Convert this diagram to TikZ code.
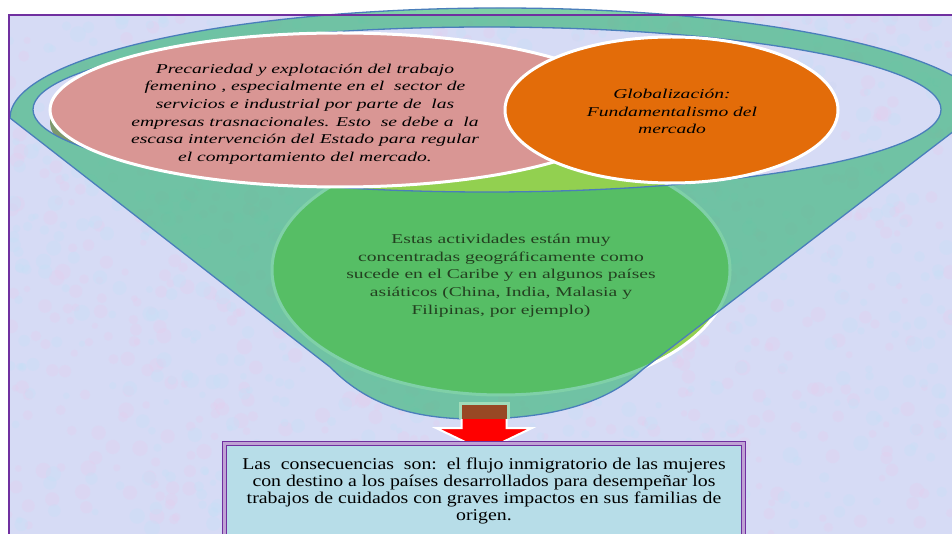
\documentclass[tikz,border=0pt]{standalone}
\usepackage{fontspec}
\setmainfont{Liberation Serif}
\newfontfamily\widefont[FakeStretch=1.45, ItalicFeatures={FakeStretch=1.45}]{Liberation Serif}
\newfontfamily\boxfont[FakeStretch=1.2]{Liberation Serif}

\definecolor{bgfill}{RGB}{214,219,245}
\definecolor{bgpink}{RGB}{230,205,238}
\definecolor{bgsky}{RGB}{196,224,248}
\definecolor{funnelteal}{RGB}{50,180,115}
\definecolor{rimblue}{RGB}{74,126,187}
\definecolor{leafgreen}{RGB}{146,208,80}
\definecolor{olivefill}{RGB}{126,152,108}
\definecolor{pinkfill}{RGB}{217,150,148}
\definecolor{orangefill}{RGB}{227,108,9}
\definecolor{shaftbrown}{RGB}{152,72,36}
\definecolor{mintedge}{RGB}{160,220,185}
\definecolor{boxblue}{RGB}{183,221,232}
\definecolor{frameviolet}{RGB}{112,48,160}
\definecolor{darkleaf}{RGB}{35,64,32}

\begin{document}
\begin{tikzpicture}[x=1pt, y=-1pt,
    bubble/.style={draw=white, line width=3pt},
    rimline/.style={draw=rimblue, line width=1.3pt},
    italictext/.style={align=center, inner sep=0pt, font=\widefont\itshape\fontsize{13.5}{17.6}\selectfont},
    plaintext/.style={align=center, inner sep=0pt, text=darkleaf, font=\widefont\fontsize{13.5}{17.75}\selectfont},
    consbox/.style={rectangle, fill=boxblue, draw=frameviolet, double=frameviolet!45, double distance=2.5pt,
        line width=1.4pt, minimum width=519pt, minimum height=95pt, inner sep=0pt, align=center,
        font=\boxfont\fontsize{16.5}{16.7}\selectfont}]

    \useasboundingbox (0,0) rectangle (952,534);
    \clip (0,0) rectangle (952,534);

    % Background
    \fill[white] (0,0) rectangle (952,534);
    \fill[bgfill] (9,15) rectangle (952,534);
    \begin{scope}
        \clip (9,15) rectangle (952,534);
        \pgfmathsetseed{7}
        \foreach \i in {1,...,700} {
            \pgfmathsetmacro{\bx}{9+943*rnd}
            \pgfmathsetmacro{\by}{15+519*rnd}
            \pgfmathsetmacro{\br}{3+5*rnd}
            \fill[bgpink, opacity=0.3] (\bx,\by) circle[radius=\br pt];
        }
        \foreach \i in {1,...,700} {
            \pgfmathsetmacro{\bx}{9+943*rnd}
            \pgfmathsetmacro{\by}{15+519*rnd}
            \pgfmathsetmacro{\br}{3+5*rnd}
            \fill[bgsky, opacity=0.3] (\bx,\by) circle[radius=\br pt];
        }
    \end{scope}

    % Inside of the funnel mouth
    \begin{scope}
        \clip (487,109.5) ellipse [x radius=454pt, y radius=82.5pt];
        \fill[olivefill] (340,122) ellipse [x radius=290pt, y radius=77pt];
    \end{scope}

    % Green bubble (under the funnel)
    \fill[leafgreen, bubble] (501,270) ellipse [x radius=229pt, y radius=125pt];

    % Funnel
    \fill[funnelteal, fill opacity=0.62, even odd rule]
        (10,118) arc[start angle=180, end angle=0, x radius=490pt, y radius=110pt]
        -- (970,118.7) -- (642,370)
        .. controls (610,400) and (560,418) .. (480,419)
        .. controls (400,420) and (360,397) .. (330,367) -- cycle
        (487,109.5) ellipse [x radius=454pt, y radius=82.5pt];
    \draw[rimline]
        (10,118) arc[start angle=180, end angle=0, x radius=490pt, y radius=110pt]
        -- (970,118.7) -- (642,370)
        .. controls (610,400) and (560,418) .. (480,419)
        .. controls (400,420) and (360,397) .. (330,367) -- cycle;
    \draw[rimline] (487,109.5) ellipse [x radius=454pt, y radius=82.5pt];

    % Top bubbles
    \fill[pinkfill, bubble] (340,110) ellipse [x radius=290pt, y radius=77pt];
    \fill[orangefill, bubble] (671.5,110) ellipse [x radius=166.5pt, y radius=73pt];

    \node[italictext] (precariedad) at (305,114) {Precariedad y explotación del trabajo\\
        femenino , especialmente en el\ \ sector de\\
        servicios e industrial por parte de\ \ las\\
        empresas trasnacionales. Esto\ \ se debe a\ \ la\\
        escasa intervención del Estado para regular\\
        el comportamiento del mercado.};
    \node[italictext] (globalizacion) at (672,111.5) {Globalización:\\Fundamentalismo del\\mercado};
    \node[plaintext] (actividades) at (501,275.5) {Estas actividades están muy\\
        concentradas geográficamente como\\
        sucede en el Caribe y en algunos países\\
        asiáticos (China, India, Malasia y\\
        Filipinas, por ejemplo)};

    % Arrow down to the result
    \filldraw[fill=red, draw=white, line width=2pt]
        (461.5,405) -- (506.5,405) -- (506.5,428) -- (532,428) -- (484,451)
        -- (436,428) -- (461.5,428) -- cycle;
    \fill[shaftbrown] (461.5,405) rectangle (506.5,419);
    \draw[mintedge, line width=3pt] (460,419) -- (460,403.5) -- (508,403.5) -- (508,419);

    % Result box
    \node[consbox] (consecuencias) at (484,491) {Las\ \ consecuencias\ \ son:\ \ el flujo inmigratorio de las mujeres\\
        con destino a los países desarrollados para desempeñar los\\
        trabajos de cuidados con graves impactos en sus familias de\\
        origen.};

    % Frame
    \draw[frameviolet, line width=2pt] (9,534) -- (9,15) -- (952,15);
\end{tikzpicture}
\end{document}
